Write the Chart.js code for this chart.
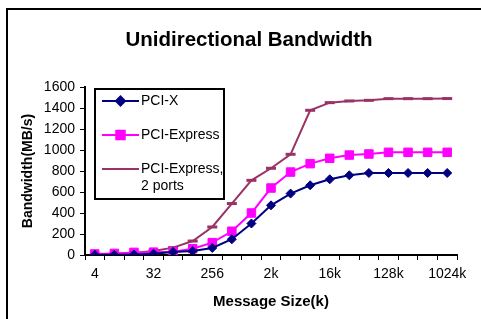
<!DOCTYPE html>
<html>
<head>
<meta charset="utf-8">
<script src="https://cdn.jsdelivr.net/npm/chart.js@4/dist/chart.umd.min.js"></script>
<style>
  html, body { margin: 0; padding: 0; background: #ffffff; }
  #wrap { width: 481px; height: 319px; position: relative; }
</style>
</head>
<body>
<div id="wrap"><canvas id="c" width="481" height="319"></canvas></div>
<script>
// ---- data ----
const categories = ['4','8','16','32','64','128','256','512','1k','2k','4k','8k','16k','32k','64k','128k','256k','512k','1024k'];
const pciX = [2, 2, 5, 13, 29, 38, 67, 150, 300, 473, 585, 664, 721, 759, 781, 781, 781, 781, 781];
const pciExpress = [10, 15, 25, 27, 30, 60, 118, 226, 400, 638, 790, 870, 921, 952, 962, 978, 978, 978, 978];
const pciExpress2 = [8, 12, 20, 38, 70, 133, 267, 490, 711, 826, 959, 1378, 1451, 1467, 1473, 1489, 1489, 1489, 1490];
const seriesNames = ['PCI-X', 'PCI-Express', 'PCI-Express, 2 ports'];
const legendLines = [['PCI-X'], ['PCI-Express'], ['PCI-Express,', '2 ports']];
const chartTitle = 'Unidirectional Bandwidth';
const xTitle = 'Message Size(k)';
const yTitle = 'Bandwidth(MB/s)';
const yTicks = [0, 200, 400, 600, 800, 1000, 1200, 1400, 1600];

const FONT = '"Liberation Sans", Arial, sans-serif';

const framePlugin = {
  id: 'frame',
  beforeDraw(chart) {
    const ctx = chart.ctx;
    ctx.save();
    ctx.fillStyle = '#ffffff';
    ctx.fillRect(0, 0, chart.width, chart.height);
    ctx.strokeStyle = '#000000';
    ctx.lineWidth = 2;
    ctx.beginPath();
    ctx.moveTo(6, 9); ctx.lineTo(chart.width, 9);
    ctx.moveTo(7, 8); ctx.lineTo(7, chart.height);
    ctx.stroke();
    // main title
    ctx.fillStyle = '#000000';
    ctx.font = 'bold 20.5px ' + FONT;
    ctx.textAlign = 'center';
    ctx.textBaseline = 'middle';
    ctx.fillText(chartTitle, 249, 40);
    ctx.restore();
  }
};

const legendPlugin = {
  id: 'boxLegend',
  afterDraw(chart) {
    const ctx = chart.ctx;
    ctx.save();
    ctx.fillStyle = '#ffffff';
    ctx.fillRect(95, 89, 129, 110);
    ctx.strokeStyle = '#000000';
    ctx.lineWidth = 2;
    ctx.strokeRect(95, 89, 129, 110);
    const rowY = [101, 135, 169];
    chart.data.datasets.forEach((ds, i) => {
      const y = rowY[i];
      ctx.strokeStyle = ds.borderColor;
      ctx.lineWidth = ds.borderWidth;
      ctx.beginPath();
      ctx.moveTo(102, y); ctx.lineTo(139, y);
      ctx.stroke();
      ctx.fillStyle = ds.pointBackgroundColor;
      ctx.strokeStyle = ds.pointBorderColor;
      Chart.helpers.drawPoint(ctx, {
        pointStyle: ds.pointStyle,
        radius: ds.pointRadius,
        borderWidth: ds.pointBorderWidth,
        rotation: 0
      }, 120.5, y);
      ctx.fillStyle = '#000000';
      ctx.font = '14px ' + FONT;
      ctx.textAlign = 'left';
      ctx.textBaseline = 'middle';
      legendLines[i].forEach((t, k) => ctx.fillText(t, 141, y + k * 17.5));
    });
    ctx.restore();
  }
};

new Chart(document.getElementById('c'), {
  type: 'line',
  data: {
    labels: categories,
    datasets: [
      {
        label: seriesNames[0], data: pciX,
        borderColor: '#000080', backgroundColor: '#000080',
        pointBackgroundColor: '#000080', pointBorderColor: '#000080',
        borderWidth: 2, pointStyle: 'rectRot', pointRadius: 4.5, pointBorderWidth: 1,
        tension: 0
      },
      {
        label: seriesNames[1], data: pciExpress,
        borderColor: '#FF00FF', backgroundColor: '#FF00FF',
        pointBackgroundColor: '#FF00FF', pointBorderColor: '#FF00FF',
        borderWidth: 2, pointStyle: 'rect', pointRadius: 6, pointBorderWidth: 1,
        tension: 0
      },
      {
        label: seriesNames[2], data: pciExpress2,
        borderColor: '#993366', backgroundColor: '#993366',
        pointBackgroundColor: '#993366', pointBorderColor: '#993366',
        borderWidth: 2, pointStyle: 'line', pointRadius: 5, pointBorderWidth: 3,
        tension: 0
      }
    ]
  },
  options: {
    responsive: false,
    animation: false,
    events: [],
    layout: { padding: { top: 87, right: 24, left: 0, bottom: 0 } },
    plugins: {
      legend: { display: false },
      title: { display: false },
      tooltip: { enabled: false }
    },
    scales: {
      x: {
        type: 'category',
        offset: true,
        grid: { display: true, drawOnChartArea: false, drawTicks: true, tickLength: 5, color: '#000000', lineWidth: 1, offset: true },
        border: { display: true, color: '#000000', width: 2 },
        ticks: {
          autoSkip: false, maxRotation: 0, minRotation: 0, padding: 6,
          color: '#000000', font: { family: FONT, size: 14 },
          callback: (v, i) => (i % 3 === 0 ? categories[i] : '')
        },
        title: { display: true, text: xTitle, color: '#000000', font: { family: FONT, size: 15, weight: 'bold' }, padding: { top: 0, bottom: 8 } },
        afterFit: s => { s.height = 64; }
      },
      y: {
        min: 0, max: 1600,
        afterBuildTicks: s => { s.ticks = yTicks.map(v => ({ value: v })); },
        grid: { display: true, drawOnChartArea: false, drawTicks: true, tickLength: 5, color: '#000000', lineWidth: 1 },
        border: { display: true, color: '#000000', width: 2 },
        ticks: { padding: 5, color: '#000000', font: { family: FONT, size: 14 }, callback: v => String(v) },
        title: { display: true, text: yTitle, color: '#000000', font: { family: FONT, size: 14, weight: 'bold' }, padding: { top: 19.6, bottom: 0 } },
        afterFit: s => { s.width = 85; }
      }
    }
  },
  plugins: [framePlugin, legendPlugin]
});
</script>
</body>
</html>
